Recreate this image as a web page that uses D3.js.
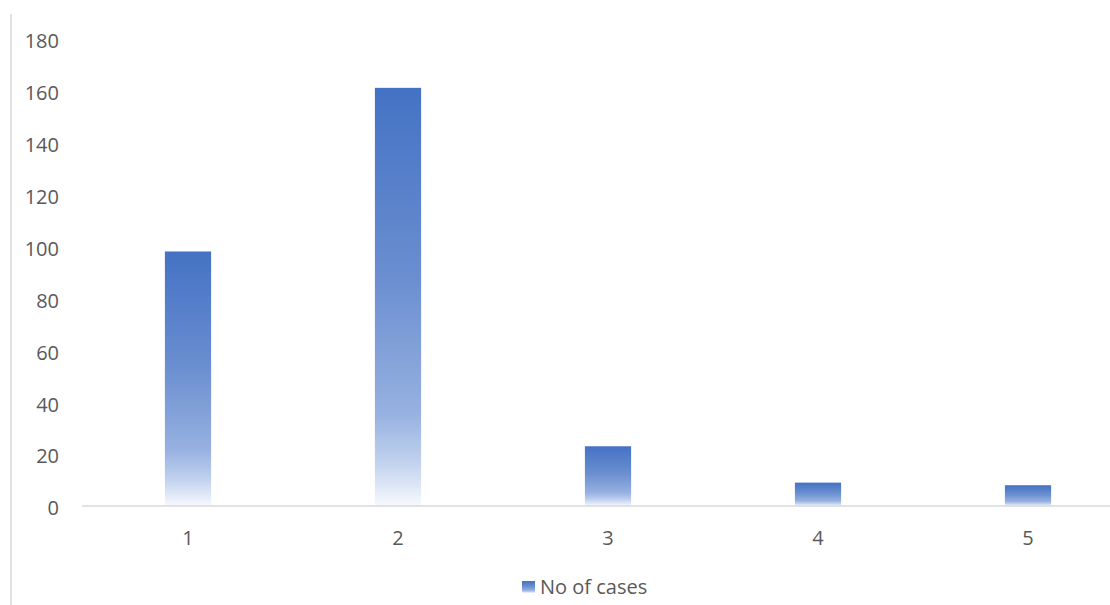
<!DOCTYPE html>
<html>
<head>
<meta charset="utf-8">
<script src="https://cdn.jsdelivr.net/npm/d3@7"></script>
<style>
  html, body { margin: 0; padding: 0; background: #ffffff; }
  svg { display: block; font-family: "Open Sans", sans-serif; }
</style>
</head>
<body>
<svg id="chart" width="1110" height="605"></svg>
<script>
const categories = ["1", "2", "3", "4", "5"];
const values = [98, 161, 23, 9, 8];
const yTicks = [0, 20, 40, 60, 80, 100, 120, 140, 160, 180];
const seriesName = "No of cases";

const svg = d3.select("#chart");
const W = 1110, H = 605;

const x = d3.scaleBand()
  .domain(categories)
  .range([83, 1133])
  .paddingInner(0.78)
  .paddingOuter(0.39);

const y = d3.scaleLinear()
  .domain([0, 180])
  .range([506, 38.5]);

// gradient
const defs = svg.append("defs");
const grad = defs.append("linearGradient")
  .attr("id", "barGrad")
  .attr("x1", 0).attr("y1", 0).attr("x2", 0).attr("y2", 1);
[[0, "#4472C4"], [0.45, "#6a8ed0"], [0.78, "#97b1e0"], [0.9, "#c3d3ef"], [1, "#f7f9fd"]]
  .forEach(([o, c]) => grad.append("stop").attr("offset", o).attr("stop-color", c));

// left frame line
svg.append("line")
  .attr("x1", 11).attr("x2", 11)
  .attr("y1", 14).attr("y2", H)
  .attr("stroke", "#d9d9d9").attr("stroke-width", 1.5);

// bars
svg.append("g").selectAll("rect")
  .data(values)
  .join("rect")
  .attr("x", (d, i) => x(categories[i]))
  .attr("width", x.bandwidth())
  .attr("y", d => y(d))
  .attr("height", d => y(0) - y(d))
  .attr("fill", "url(#barGrad)");

// baseline
svg.append("line")
  .attr("x1", 82).attr("x2", W)
  .attr("y1", y(0)).attr("y2", y(0))
  .attr("stroke", "#d9d9d9").attr("stroke-width", 1.5);

// y axis labels
const yAxis = d3.axisLeft(y).tickValues(yTicks).tickSize(0).tickPadding(0);
const yg = svg.append("g").attr("transform", "translate(59,2.5)").call(yAxis);
yg.select(".domain").remove();
yg.selectAll("text")
  .attr("fill", "#595959")
  .style("font-size", "20px")
  .style("font-family", "'Open Sans', sans-serif");

// x axis labels
const xAxis = d3.axisBottom(x).tickSize(0).tickPadding(0);
const xg = svg.append("g").attr("transform", "translate(0,531)").call(xAxis);
xg.select(".domain").remove();
xg.selectAll("text")
  .attr("fill", "#595959")
  .style("font-size", "20px")
  .style("font-family", "'Open Sans', sans-serif");

// legend
const lg = svg.append("g").attr("transform", "translate(522,581)");
lg.append("rect").attr("width", 13).attr("height", 12).attr("fill", "url(#barGrad)");
lg.append("text")
  .attr("x", 18).attr("y", 6).attr("dy", "0.35em")
  .attr("fill", "#595959")
  .style("font-size", "20px")
  .text(seriesName);
</script>
</body>
</html>
